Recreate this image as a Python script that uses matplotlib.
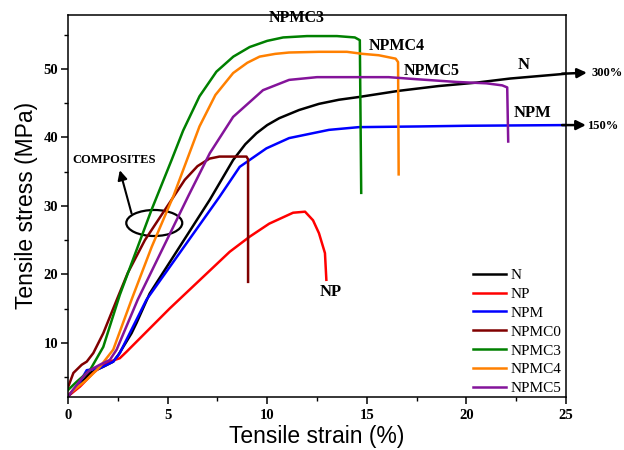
import numpy as np
import matplotlib
matplotlib.use('Agg')
import matplotlib.pyplot as plt
from matplotlib.patches import Ellipse
from matplotlib.ticker import MultipleLocator

# stress-strain curves, strain in %, stress in MPa
n_x = [0, 0.5, 1.1, 1.77, 2.27, 2.52, 3.19, 3.44, 4.1, 7.12, 8.29, 8.9, 9.46, 10.0, 10.6, 11.6, 12.6, 13.6, 14.6, 16.6, 18.6, 20.5, 22.2, 25.0]
n_y = [2.2, 3.6, 5.6, 6.5, 7.25, 8.2, 11.4, 12.9, 17.2, 30.9, 36.7, 39.0, 40.6, 41.8, 42.8, 44.0, 44.9, 45.5, 45.9, 46.8, 47.5, 48.0, 48.6, 49.3]

np_x = [0, 0.6, 1.27, 1.6, 2.1, 2.6, 2.94, 5.1, 8.12, 9.12, 10.1, 11.3, 11.9, 12.3, 12.6, 12.9, 12.97]
np_y = [2.2, 3.6, 5.6, 6.4, 7.25, 7.75, 8.7, 15.0, 23.3, 25.5, 27.4, 29.0, 29.15, 27.9, 26.0, 23.1, 19.2]

npm_x = [0, 0.5, 0.94, 1.6, 2.27, 2.6, 3.94, 7.6, 8.62, 9.96, 11.1, 13.1, 14.6, 17.6, 20.0, 25.0]
npm_y = [2.2, 3.8, 6.0, 6.3, 7.25, 8.5, 16.3, 31.3, 35.7, 38.4, 39.9, 41.1, 41.5, 41.6, 41.7, 41.8]

c0_x = [0, 0.27, 0.69, 0.94, 1.27, 1.77, 2.52, 3.0, 3.86, 4.86, 5.86, 6.5, 7.1, 7.6, 8.96, 9.04, 9.04]
c0_y = [3.5, 5.6, 6.8, 7.25, 8.5, 11.4, 16.8, 20.2, 25.0, 29.4, 33.8, 35.8, 36.9, 37.2, 37.2, 36.8, 18.9]

c3_x = [0, 0.43, 1.1, 1.77, 2.6, 4.19, 5.2, 5.78, 6.6, 7.45, 8.3, 9.12, 10.0, 10.8, 12.0, 13.5, 14.4, 14.65, 14.72]
c3_y = [3.1, 4.3, 6.0, 9.4, 17.0, 29.4, 36.7, 41.0, 46.0, 49.6, 51.8, 53.2, 54.1, 54.6, 54.8, 54.8, 54.6, 54.2, 31.9]

c4_x = [0, 0.94, 1.6, 2.27, 3.19, 4.2, 5.3, 6.6, 7.4, 8.29, 9.0, 9.62, 10.4, 11.1, 12.6, 14.0, 14.8, 15.6, 16.45, 16.57, 16.6]
c4_y = [2.4, 4.6, 6.5, 9.0, 16.3, 24.0, 31.5, 41.6, 46.2, 49.4, 50.9, 51.8, 52.2, 52.4, 52.5, 52.5, 52.2, 52.0, 51.5, 51.0, 34.6]

c5_x = [0, 0.77, 1.1, 1.6, 2.1, 2.44, 3.5, 6.05, 7.12, 8.29, 9.79, 11.1, 12.5, 16.1, 17.5, 19.5, 21.0, 21.8, 22.05, 22.1]
c5_y = [2.2, 5.1, 6.0, 6.8, 7.5, 9.0, 16.3, 31.5, 37.7, 43.0, 46.9, 48.4, 48.8, 48.8, 48.5, 48.1, 47.9, 47.6, 47.3, 39.4]

series = [
    ('N', n_x, n_y, 'black'),
    ('NP', np_x, np_y, '#ff0000'),
    ('NPM', npm_x, npm_y, '#0000ff'),
    ('NPMC0', c0_x, c0_y, '#800000'),
    ('NPMC3', c3_x, c3_y, '#008000'),
    ('NPMC4', c4_x, c4_y, '#ff8000'),
    ('NPMC5', c5_x, c5_y, '#84149a'),
]

serif = 'Liberation Serif'
sans = 'Liberation Sans'

fig = plt.figure(figsize=(6.24, 4.5), dpi=100)
ax = fig.add_axes([0.109, 0.118, 0.798, 0.849])

for name, xs, ys, col in series:
    ax.plot(xs, ys, color=col, lw=1.8, label=name)

ax.set_xlim(0, 25)
ax.set_ylim(2.1, 57.9)
ax.xaxis.set_major_locator(MultipleLocator(5))
ax.xaxis.set_minor_locator(MultipleLocator(2.5))
ax.yaxis.set_major_locator(MultipleLocator(10))
ax.yaxis.set_minor_locator(MultipleLocator(5))
ax.tick_params(which='major', direction='out', length=5, width=1.1, pad=2)
ax.tick_params(which='minor', direction='out', length=3, width=1.0)
ax.tick_params(axis='x', which='major', pad=4)
for s in ax.spines.values():
    s.set_linewidth(1.1)
for lab in ax.get_xticklabels() + ax.get_yticklabels():
    lab.set_fontfamily(serif)
    lab.set_fontweight('bold')
    lab.set_fontsize(10.5)

ax.set_xlabel('Tensile strain (%)', fontfamily=sans, fontsize=16.5, labelpad=2)
ax.set_ylabel('Tensile stress (MPa)', fontfamily=sans, fontsize=16.5, labelpad=4)

# curve labels
bold = dict(fontfamily=serif, fontweight='bold', ha='center', va='center')
ax.text(11.5, 57.4, 'NPMC3', fontsize=11.5, **bold)
ax.text(16.5, 53.3, 'NPMC4', fontsize=11.5, **bold)
ax.text(18.25, 49.7, 'NPMC5', fontsize=11.5, **bold)
ax.text(22.9, 50.6, 'N', fontsize=12, **bold)
ax.text(23.3, 43.6, 'NPM', fontsize=12, **bold)
ax.text(13.2, 17.4, 'NP', fontsize=12, **bold)
ax.text(2.34, 36.7, 'COMPOSITES', fontsize=9, **bold)

# arrows for curves running past the axis
arr = dict(arrowstyle='-|>', color='black', lw=1.8, mutation_scale=14, shrinkA=0, shrinkB=0)
ax.annotate('', xy=(26.05, 49.45), xytext=(24.8, 49.3), arrowprops=arr, annotation_clip=False)
ax.annotate('', xy=(26.0, 41.8), xytext=(24.8, 41.8), arrowprops=arr, annotation_clip=False)
ax.text(26.27, 49.4, '300%', fontsize=9, fontfamily=serif, fontweight='bold', va='center', ha='left', clip_on=False)
ax.text(26.07, 41.7, '150%', fontsize=9, fontfamily=serif, fontweight='bold', va='center', ha='left', clip_on=False)

# composites marker
ax.add_patch(Ellipse((4.33, 27.5), 2.81, 3.8, fill=False, ec='black', lw=1.6))
ax.annotate('', xy=(2.6, 35.2), xytext=(3.19, 28.9),
            arrowprops=dict(arrowstyle='-|>', color='black', lw=1.5, mutation_scale=14, shrinkA=0, shrinkB=0))

leg = ax.legend(loc='lower right', bbox_to_anchor=(1.01, -0.02), frameon=False,
                prop={'family': serif, 'size': 11}, handlelength=2.2, handletextpad=0.3,
                labelspacing=0.34, borderaxespad=0.2)

fig.savefig('out.png', dpi=100)
